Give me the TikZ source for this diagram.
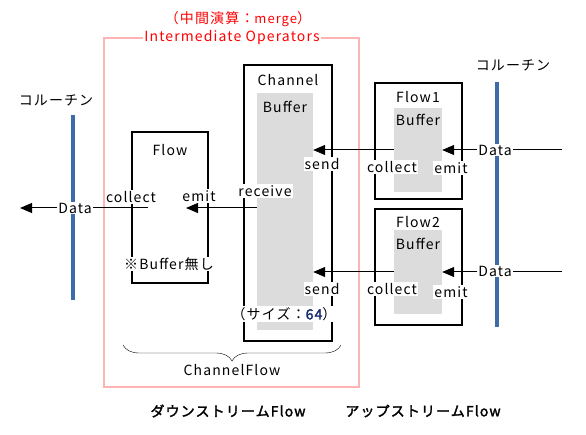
\documentclass[tikz,border=0pt]{standalone}
\usepackage{fontspec}
\setmainfont{Noto Sans CJK JP}[AutoFakeBold=2,LetterSpace=8]
\usetikzlibrary{arrows.meta,decorations.pathreplacing}
\definecolor{opred}{RGB}{255,0,0}
\definecolor{oppink}{RGB}{255,180,180}
\definecolor{coblue}{RGB}{62,108,170}
\definecolor{bufgray}{RGB}{220,220,220}
\definecolor{sizeblue}{RGB}{20,40,110}
\tikzset{
  box/.style={draw,line width=2pt},
  buf/.style={fill=bufgray,draw=none,inner sep=0pt},
  lbl/.style={fill=white,inner sep=1pt},
  arr/.style={-{Triangle[length=12pt,width=10pt]},line width=1pt},
  coline/.style={coblue,line width=4pt}
}

\begin{document}
\begin{tikzpicture}[x=1pt,y=-1pt,font=\fontsize{14}{16}\selectfont]
            \useasboundingbox (0,0) rectangle (586,435);
            % coroutines
            \node (coL) at (56,100) {コルーチン};
            \draw[coline] (73,115) -- (73,300);
            \node (coR) at (513,65) {コルーチン};
            \draw[coline] (497,82) -- (497,327);
            % intermediate operators
            \draw[oppink,line width=2pt] (104,38) rectangle (359,387);
            \node[text=opred] (mergettl) at (238,19) {（中間演算：{\fontsize{13}{14}\selectfont merge}）};
            \node[lbl,text=opred] (opttl) at (232,38) {Intermediate Operators};
            % boxes
            \draw[box] (132,132) rectangle (208,283);
            \draw[box] (244,65) rectangle (332,341);
            \draw[box] (375,83) rectangle (462,199);
            \draw[box] (375,209) rectangle (462,325);
            \node[buf,minimum width=56pt,minimum height=237pt] (chbuf) at (285,211.5) {};
            \node[buf,minimum width=48pt,minimum height=84pt] (buf1) at (418,150) {};
            \node[buf,minimum width=48pt,minimum height=84pt] (buf2) at (418,272) {};
            \node (flowttl) at (170,150) {Flow};
            \node (chttl) at (288,80) {Channel};
            \node (chbufttl) at (285,107) {Buffer};
            \node (f1ttl) at (418,97) {Flow1};
            \node (f1bufttl) at (418,120) {Buffer};
            \node (f2ttl) at (418,222) {Flow2};
            \node (f2bufttl) at (418,244) {Buffer};
            % data flow
            \coordinate (in1) at (562,150);
            \coordinate (in2) at (562,272);
            \coordinate (emitin) at (186,208);
            \coordinate (colout) at (148,208);
            \coordinate (outL) at (20,208);
            \draw[arr] (in1) -- (buf1.east);
            \draw[arr] (in2) -- (buf2.east);
            \draw[arr] (buf1.west) -- (chbuf.east |- buf1.west);
            \draw[arr] (buf2.west) -- (chbuf.east |- buf2.west);
            \draw[arr] (chbuf.west |- emitin) -- (emitin);
            \draw[arr] (colout) -- (outL);
            % labels
            \node[lbl] (data1) at (495,150) {Data};
            \node[lbl] (data2) at (495,271) {Data};
            \node[lbl] (dataL) at (75,208) {Data};
            \node[lbl] (colL) at (131,197) {collect};
            \node[lbl] (emitL) at (199,196) {emit};
            \node[lbl] (nobuf) at (169,264) {※Buffer無し};
            \node[lbl] (recv) at (265,191) {receive};
            \node[lbl] (send1) at (322,164) {send};
            \node[lbl] (send2) at (322,289) {send};
            \node[lbl] (chsize) at (284,314) {（サイズ：\textcolor{sizeblue}{\bfseries 64}）};
            \node[lbl] (col1) at (392,167) {collect};
            \node[lbl] (emit1) at (451,168) {emit};
            \node[lbl] (col2) at (392,289) {collect};
            \node[lbl] (emit2) at (451,292) {emit};
            % channel flow
            \draw[decorate,decoration={brace,amplitude=16pt}] (341,345) -- (123,345);
            \node (chflow) at (232,370) {ChannelFlow};
            \node[font=\fontsize{14}{16}\selectfont\bfseries] (down) at (228,411) {ダウンストリームFlow};
            \node[font=\fontsize{14}{16}\selectfont\bfseries] (up) at (423,411) {アップストリームFlow};
          \end{tikzpicture}
\end{document}
